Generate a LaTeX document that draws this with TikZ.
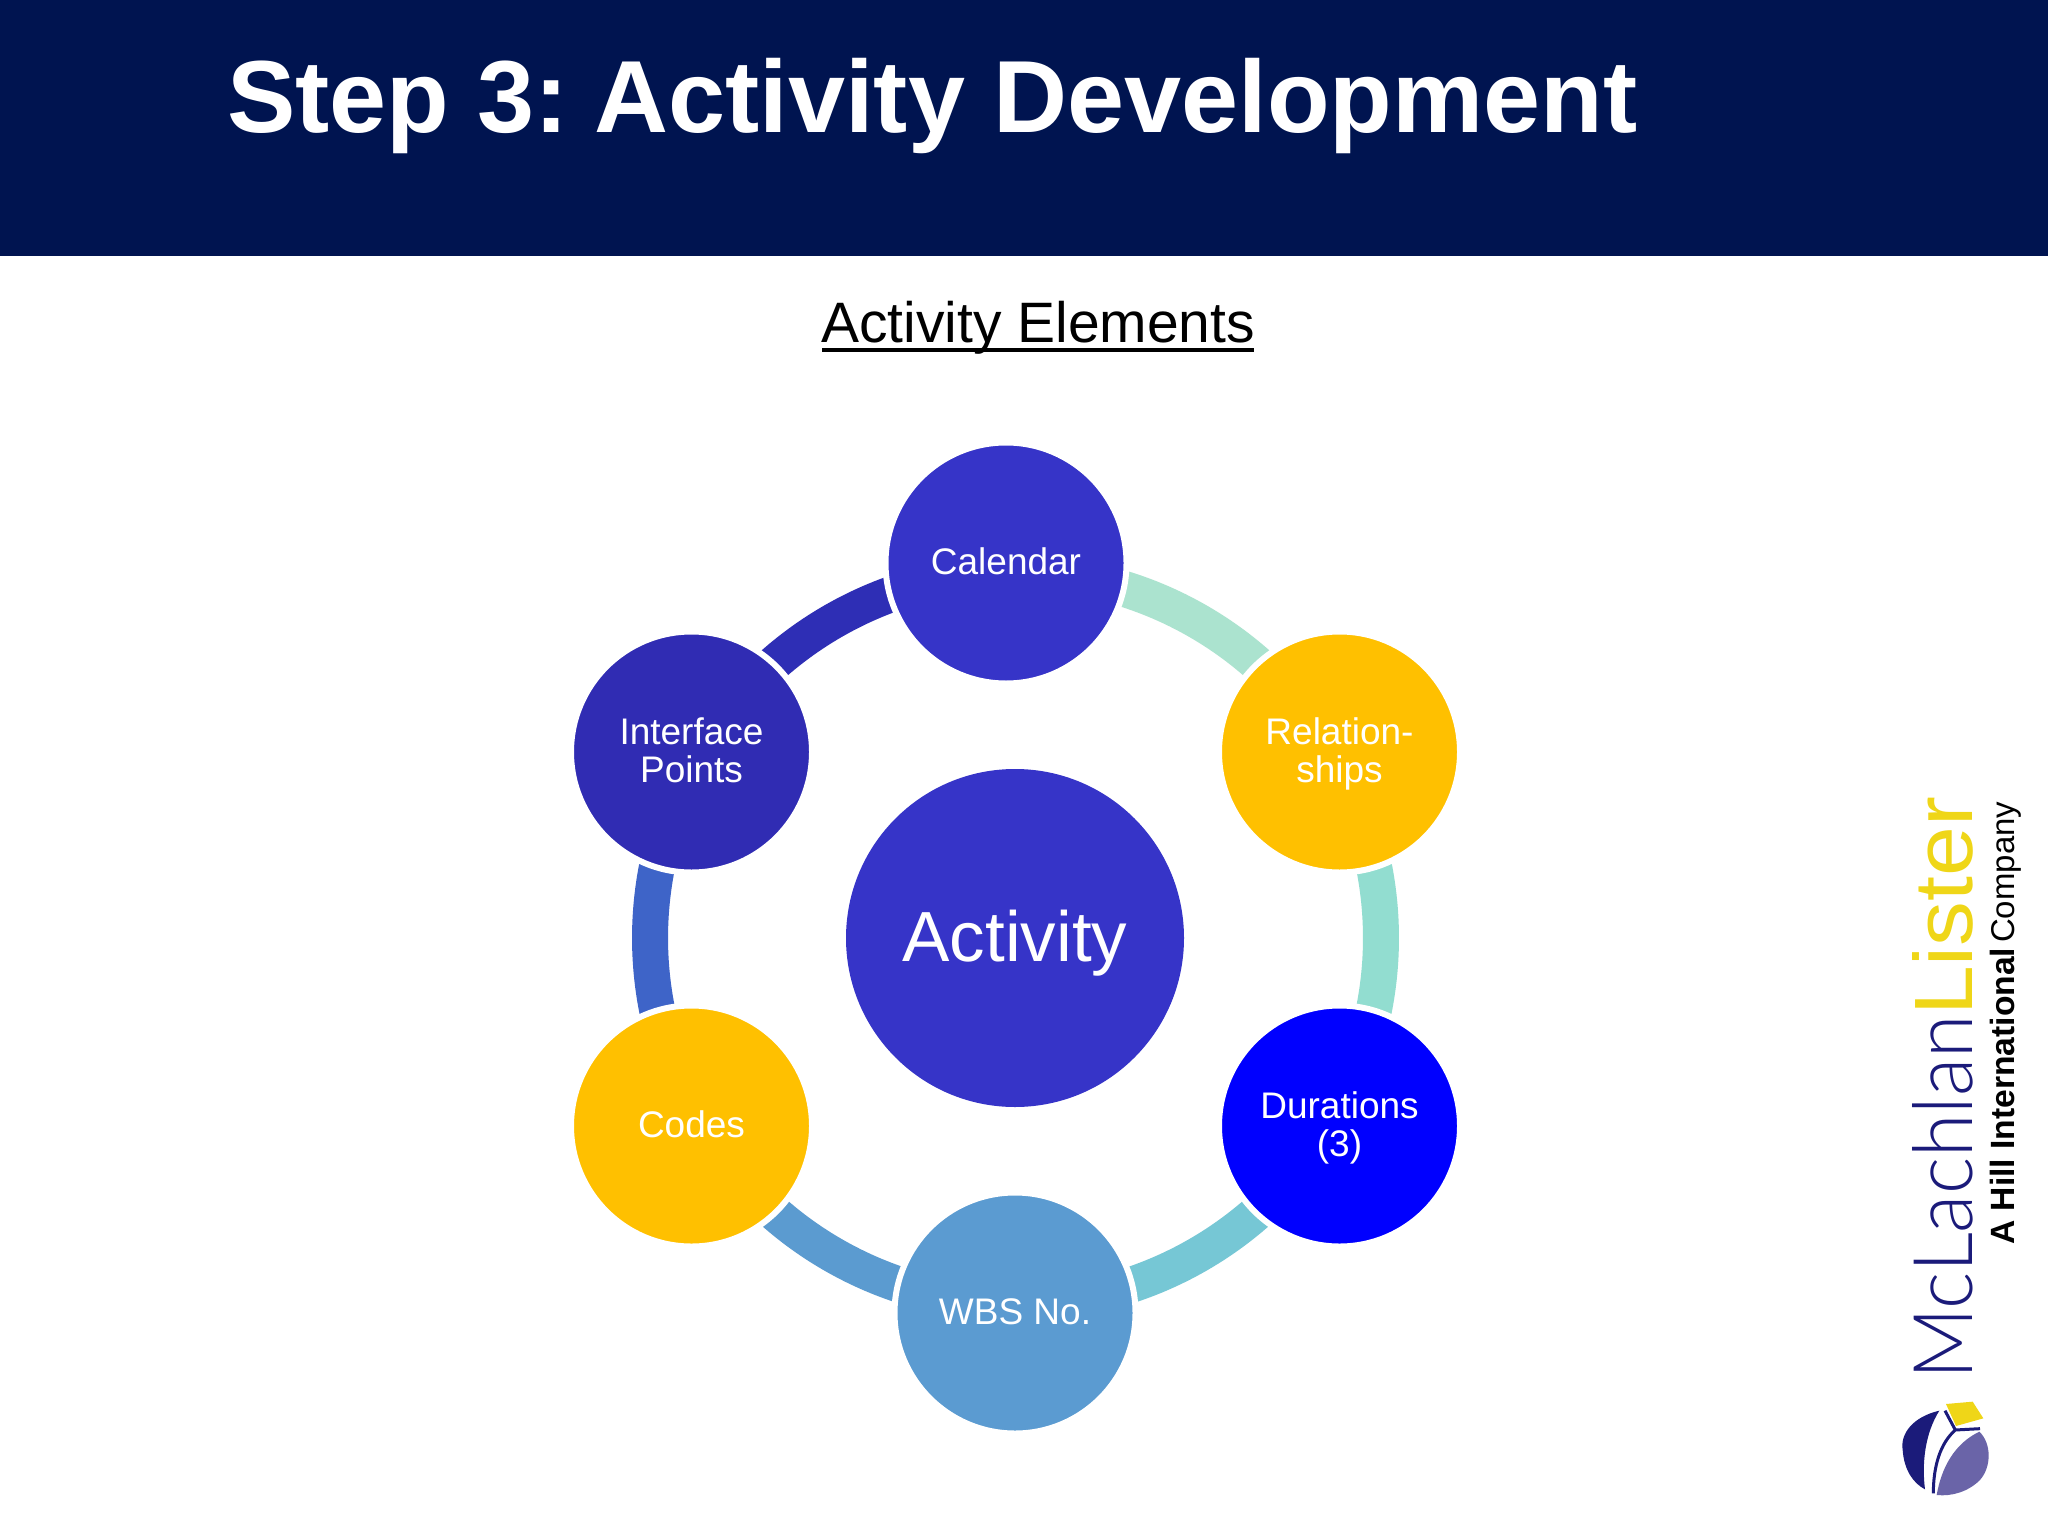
\documentclass[tikz,border=0pt]{standalone}
\usepackage{fontspec}
\setmainfont{Liberation Sans}
\newfontfamily\thinfont{Lato Light}
\definecolor{navy}{HTML}{001450}
\definecolor{calblue}{HTML}{3634C8}
\definecolor{intblue}{HTML}{302CB3}
\definecolor{amber}{HTML}{FFC000}
\definecolor{pureblue}{HTML}{0000FF}
\definecolor{wbsblue}{HTML}{5B9BD1}
\definecolor{arcA}{HTML}{ABE3CF}
\definecolor{arcB}{HTML}{92DDD0}
\definecolor{arcC}{HTML}{76C7D5}
\definecolor{arcD}{HTML}{5B9BD0}
\definecolor{arcE}{HTML}{3E64C8}
\definecolor{arcF}{HTML}{2E2EB5}
\definecolor{logodark}{HTML}{1B1B7A}
\definecolor{logopurple}{HTML}{6A64A8}
\definecolor{logoyellow}{HTML}{EFD618}
\newcommand{\capln}[1]{\smash{#1}\vrule height 27pt depth 3.5pt width 0pt}
\tikzset{
  sat/.style={circle,draw=white,line width=6pt,minimum size=241pt,inner sep=0pt,outer sep=0pt,
    text=white,align=center,font=\fontsize{37}{38}\selectfont},
  ringarc/.style={line width=36pt,line cap=butt,bend left=30,looseness=0.912},
  logotext/.style={rotate=90,inner sep=0pt},
}
\begin{document}
\begin{tikzpicture}[x=1pt,y=-1pt]
\useasboundingbox (0,0) rectangle (2048,1536);
\fill[white] (0,0) rectangle (2048,1536);
\fill[navy] (0,0) rectangle (2048,256);
\node[anchor=base west,inner sep=0pt,text=white,font=\fontsize{102.5}{102.5}\selectfont\bfseries] (title) at (227,133) {Step 3:\hspace{-12pt} Activity Development};
\node[anchor=base,inner sep=0pt,text=black,font=\fontsize{57}{57}\selectfont] (sub) at (1038,342.5) {Activity Elements};
\draw[black,line width=3.5pt] (822,350) -- (1254,350);
% ring points
\coordinate (r1) at (1015.5,572.3);
\coordinate (r2) at (1332.2,755.15);
\coordinate (r3) at (1332.2,1120.85);
\coordinate (r4) at (1015.5,1303.7);
\coordinate (r5) at (698.8,1120.85);
\coordinate (r6) at (698.8,755.15);
\draw[ringarc,arcA] (r1) to (r2);
\draw[ringarc,arcB] (r2) to (r3);
\draw[ringarc,arcC] (r3) to (r4);
\draw[ringarc,arcD] (r4) to (r5);
\draw[ringarc,arcE] (r5) to (r6);
\draw[ringarc,arcF] (r6) to (r1);
% circles
\node[sat,fill=calblue] (cal) at (1006,563) {\capln{Calendar}};
\node[sat,fill=amber] (rel) at (1339.5,752) {\capln{Relation-}\\\capln{ships}};
\node[sat,fill=pureblue] (dur) at (1339.5,1126) {\capln{Durations}\\\capln{(3)}};
\node[sat,fill=wbsblue] (wbs) at (1015,1313) {\capln{WBS No.}};
\node[sat,fill=amber] (cod) at (691.5,1126) {\capln{Codes}};
\node[sat,fill=intblue] (int) at (691.5,752) {\capln{Interface}\\\capln{Points}};
\node[circle,fill=calblue,minimum size=338pt,inner sep=0pt,outer sep=0pt,text=white,font=\fontsize{71}{71}\selectfont] (act) at (1015,938) {\smash{Activity}\vrule height 51pt depth 5pt width 0pt};
% logo
\node[logotext,anchor=south west,text=logodark] (mcl) at (1973,1380) {\resizebox{364pt}{60pt}{\thinfont McLachlan}};
\node[logotext,anchor=south west,text=logoyellow] (lis) at (1973,1016) {\resizebox{219pt}{60pt}{Lister}};
\node[logotext,anchor=base west,text=black] (hill) at (2014,1245) {\resizebox{297pt}{!}{\fontsize{33}{33}\selectfont\bfseries A Hill International}};
\node[logotext,anchor=base west,text=black] (comp) at (2014,943) {\resizebox{141pt}{!}{\fontsize{33}{33}\selectfont Company}};
\begin{scope}[shift={(1880,1380)},x=0.3333pt,y=-0.3333pt]
\fill[logodark] (178,92) .. controls (100,110) and (60,160) .. (68,210) .. controls (72,270) and (100,310) .. (135,328) .. controls (125,250) and (135,160) .. (178,92) -- cycle;
\fill[logopurple] (298,155) .. controls (335,190) and (335,260) .. (300,300) .. controls (265,335) and (215,350) .. (170,345) .. controls (185,260) and (225,190) .. (298,155) -- cycle;
\draw[logodark,line width=3pt] (160,340) .. controls (160,260) and (180,190) .. (226,150) -- (300,146);
\draw[logodark,line width=3pt] (226,150) -- (195,92);
\fill[logoyellow] (198,72) -- (278,65) -- (310,115) -- (228,138) -- cycle;
\end{scope}
\end{tikzpicture}
\end{document}
